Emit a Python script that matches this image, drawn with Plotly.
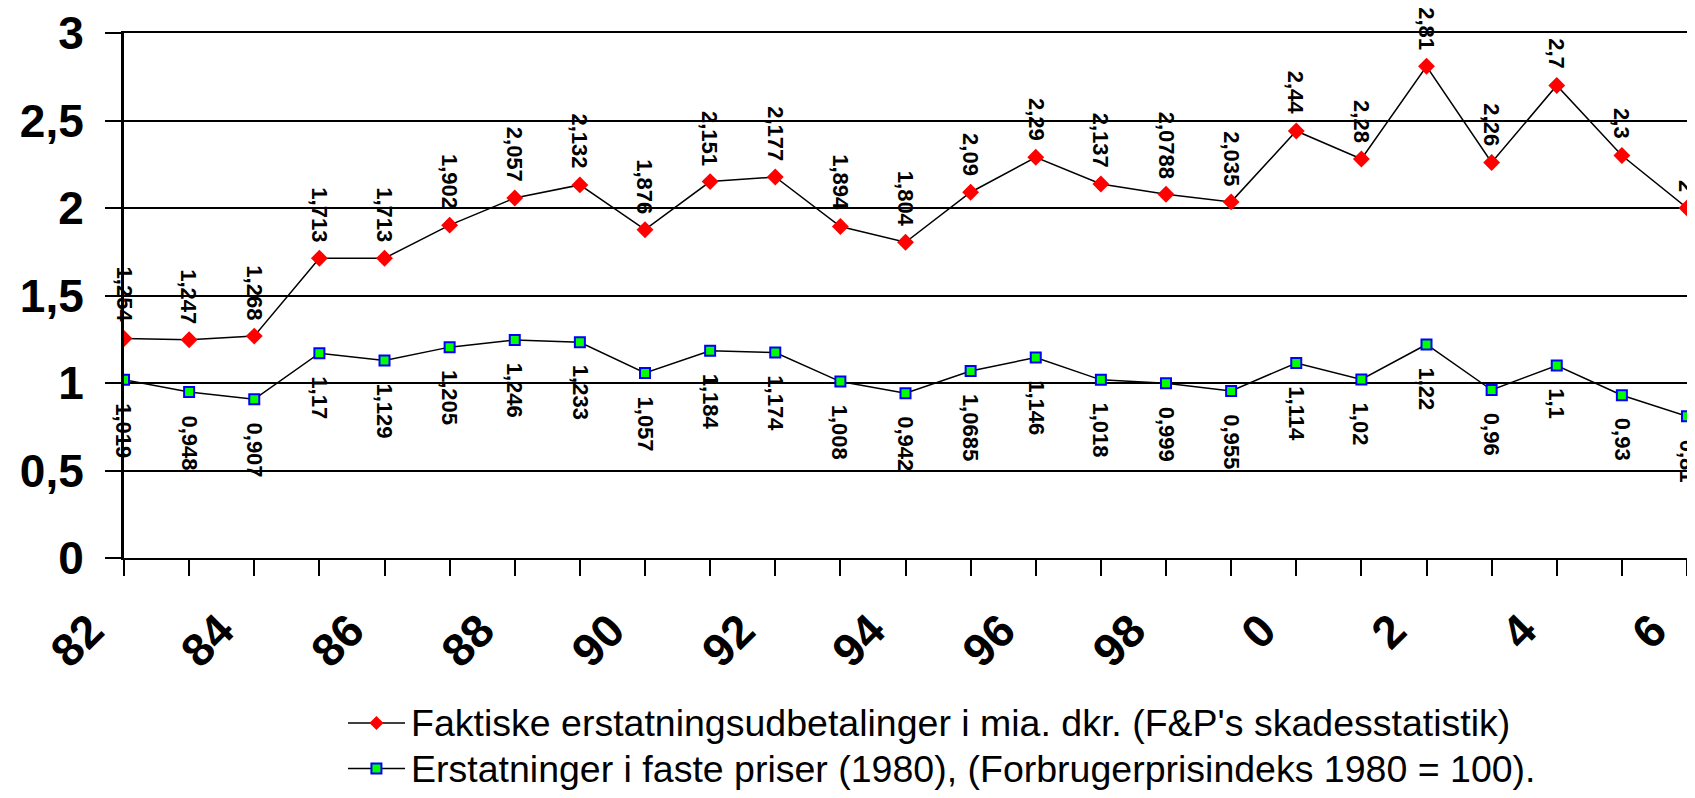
import plotly.graph_objects as go

years = list(range(82, 107))
year_labels = ["82", "84", "86", "88", "90", "92", "94", "96", "98", "0", "2", "4", "6"]
label_years = list(range(82, 107, 2))

faktiske = [1.254, 1.247, 1.268, 1.713, 1.713, 1.902, 2.057, 2.132, 1.876, 2.151, 2.177,
            1.894, 1.804, 2.09, 2.29, 2.137, 2.0788, 2.035, 2.44, 2.28, 2.81, 2.26, 2.7,
            2.3, 2.0]
faktiske_txt = ["1,254", "1,247", "1,268", "1,713", "1,713", "1,902", "2,057", "2,132",
                "1,876", "2,151", "2,177", "1,894", "1,804", "2,09", "2,29", "2,137",
                "2,0788", "2,035", "2,44", "2,28", "2,81", "2,26", "2,7", "2,3", "2"]

faste = [1.019, 0.948, 0.907, 1.17, 1.129, 1.205, 1.246, 1.233, 1.057, 1.184, 1.174,
         1.008, 0.942, 1.0685, 1.146, 1.018, 0.999, 0.955, 1.114, 1.02, 1.22, 0.96, 1.1,
         0.93, 0.81]
faste_txt = ["1,019", "0,948", "0,907", "1,17", "1,129", "1,205", "1,246", "1,233",
             "1,057", "1,184", "1,174", "1,008", "0,942", "1,0685", "1,146", "1,018",
             "0,999", "0,955", "1,114", "1,02", "1,22", "0,96", "1,1", "0,93", "0,81"]

y_ticks = [0, 0.5, 1, 1.5, 2, 2.5, 3]
y_ticktext = ["0", "0,5", "1", "1,5", "2", "2,5", "3"]

name_red = "Faktiske erstatningsudbetalinger i mia. dkr. (F&P's skadesstatistik)"
name_blue = "Erstatninger i faste priser (1980), (Forbrugerprisindeks 1980 = 100)."

FONT = "Liberation Sans, Arial, sans-serif"
RED_SYMBOL = "M0,-7 L7,0 L0,7 L-7,0 Z"
SQUARE_SYMBOL = "M-5,-5 L5,-5 L5,5 L-5,5 Z"

fig = go.Figure()
fig.add_trace(go.Scatter(
    x=years, y=faktiske, mode="lines+markers", name=name_red,
    line=dict(color="black", width=1.5),
    marker=dict(symbol="diamond", size=13, color="#ff0000", line=dict(width=0)),
))
fig.add_trace(go.Scatter(
    x=years, y=faste, mode="lines+markers", name=name_blue,
    line=dict(color="black", width=1.5),
    marker=dict(symbol="square", size=10, color="#00ff00", line=dict(color="#0000ff", width=2)),
))

anns = []
for x, y, t in zip(years, faktiske, faktiske_txt):
    anns.append(dict(x=x, y=y, xref="x", yref="y", text=t, showarrow=False,
                     textangle=90, yanchor="bottom", xanchor="center", yshift=14,
                     font=dict(family=FONT, size=22, color="black", weight="bold")))
for x, y, t in zip(years, faste, faste_txt):
    anns.append(dict(x=x, y=y, xref="x", yref="y", text=t, showarrow=False,
                     textangle=90, yanchor="top", xanchor="center", yshift=-21,
                     font=dict(family=FONT, size=22, color="black", weight="bold")))

# manual legend (paper coordinates, below the plot area)
leg_rows = [(-0.3143, name_red, RED_SYMBOL, "#ff0000", "rgba(0,0,0,0)", 0),
            (-0.4011, name_blue, SQUARE_SYMBOL, "#00ff00", "#0000ff", 2)]
shapes = []
for ly, txt, path, fill, lcol, lw in leg_rows:
    shapes.append(dict(type="line", xref="paper", yref="paper", x0=0.1433, x1=0.1798,
                       y0=ly, y1=ly, line=dict(color="black", width=1.5)))
    shapes.append(dict(type="path", xref="paper", yref="paper", xsizemode="pixel",
                       ysizemode="pixel", xanchor=0.1615, yanchor=ly, path=path,
                       fillcolor=fill, line=dict(color=lcol, width=lw)))
    anns.append(dict(x=0.1823, y=ly, xref="paper", yref="paper", text=txt,
                     showarrow=False, xanchor="left", yanchor="middle",
                     font=dict(family=FONT, size=37.5, color="black")))

fig.update_layout(
    width=1679, height=782,
    margin=dict(l=116, r=0, t=25, b=232, autoexpand=False),
    paper_bgcolor="white", plot_bgcolor="white",
    font=dict(family=FONT, color="black"),
    showlegend=False,
    annotations=anns,
    shapes=shapes,
)
fig.update_xaxes(
    range=[82, 106], showgrid=False, zeroline=False,
    showline=True, mirror=True, linecolor="black", linewidth=2,
    tickmode="array", tickvals=label_years, ticktext=year_labels,
    tickangle=-45, ticks="outside", ticklen=16, tickwidth=2, tickcolor="black",
    tickfont=dict(family=FONT, size=46, color="black", weight="bold"),
    ticklabelstandoff=9, ticklabelshift=-34, ticklabeloverflow="allow",
    minor=dict(tickmode="linear", tick0=82, dtick=1, ticks="outside", ticklen=16,
               tickwidth=2, tickcolor="black", showgrid=False),
)
fig.update_yaxes(
    range=[0, 3], tickmode="array", tickvals=y_ticks, ticktext=y_ticktext,
    showgrid=True, gridcolor="black", gridwidth=2, zeroline=False,
    showline=True, linecolor="black", linewidth=3,
    ticks="outside", ticklen=16, tickwidth=2, tickcolor="black",
    tickfont=dict(family=FONT, size=46, color="black", weight="bold"),
    ticklabelstandoff=12, ticklabeloverflow="allow",
)

fig.write_html("out.html")
